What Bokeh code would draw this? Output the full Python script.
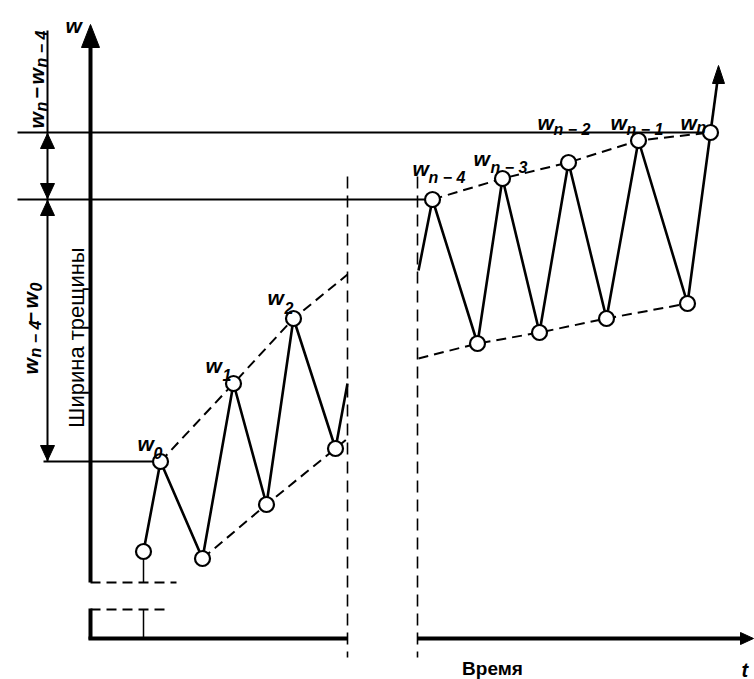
import math
from bokeh.plotting import figure
from bokeh.models import Range1d
from bokeh.core.properties import value
from bokeh.embed import file_html
from bokeh.resources import INLINE

H = 679  # page height used to turn picture rows into w levels

# ---------------- data (time t, crack width w) ----------------
left_t = [143, 160, 202, 233, 266, 293, 335, 347]
left_w = [128, 218, 121, 296, 175, 361, 231, 296]
right_t = [418, 432, 477, 502, 539, 568, 606, 638, 687, 710]
right_w = [409, 480, 336, 501, 347, 517, 361, 539, 376, 547]

upper_left_t = [160, 233, 293, 347]
upper_left_w = [218, 296, 361, 405]
lower_left_t = [202, 266, 335, 347]
lower_left_w = [121, 175, 231, 241]
upper_right_t = [432, 502, 568, 638, 710]
upper_right_w = [480, 501, 517, 539, 547]
lower_right_t = [418, 477, 539, 606, 687]
lower_right_w = [321, 336, 347, 361, 376]

w0_level = left_w[1]
wn4_level = right_w[1]
wn_level = right_w[-1]

peak_labels = ["0", "1", "2", "n − 4", "n − 3", "n − 2", "n − 1", "n"]


def Y(py):
    return H - py


p = figure(width=754, height=679, x_range=Range1d(0, 754), y_range=Range1d(0, 679),
           output_backend="svg", toolbar_location=None, min_border=0,
           x_axis_type=None, y_axis_type=None)
p.grid.visible = False
p.outline_line_color = None
p.background_fill_color = "white"
p.border_fill_color = "white"

K = "black"
FONT = value("Liberation Sans")


def tri(xs, ys, color=K):
    p.patch(xs, ys, fill_color=color, line_color=color, line_width=1)


# ---------------- axes ----------------
p.line([90, 90], [Y(46), Y(582)], line_color=K, line_width=4)
tri([90, 81, 99], [Y(24), Y(47), Y(47)])
p.line([90, 176], [Y(582), Y(582)], line_color=K, line_width=2, line_dash="10 6")
p.line([143, 143], [Y(559), Y(582)], line_color=K, line_width=1.5)
p.line([90, 168], [Y(609), Y(609)], line_color=K, line_width=2, line_dash="10 6")
p.line([90, 90], [Y(608), Y(639)], line_color=K, line_width=4)
p.line([143, 143], [Y(609), Y(638)], line_color=K, line_width=1.5)
p.line([88, 347], [Y(638), Y(638)], line_color=K, line_width=4)
p.line([417, 744], [Y(638), Y(638)], line_color=K, line_width=4)
tri([753, 740, 740], [Y(638), Y(632), Y(644)])

for xv in (347, 417):
    p.line([xv, xv], [Y(176), Y(657)], line_color=K, line_width=1.6, line_dash="12 7")

# ---------------- reference levels & dimension line ----------------
p.line([17, 702], [wn_level, wn_level], line_color=K, line_width=2)
p.line([17, 424], [wn4_level, wn4_level], line_color=K, line_width=2)
p.line([43, 152], [w0_level, w0_level], line_color=K, line_width=2)
p.line([47, 47], [Y(30), w0_level], line_color=K, line_width=2)
aw, al = 7, 15
tri([47, 47 - aw, 47 + aw], [wn_level - 1, wn_level - 1 - al, wn_level - 1 - al])
tri([47, 47 - aw, 47 + aw], [wn4_level + 1, wn4_level + 1 + al, wn4_level + 1 + al])
tri([47, 47 - aw, 47 + aw], [wn4_level - 1, wn4_level - 1 - al, wn4_level - 1 - al])
tri([47, 47 - aw, 47 + aw], [w0_level + 1, w0_level + 1 + al, w0_level + 1 + al])

# ---------------- envelopes ----------------
for tt, ww in ((upper_left_t, upper_left_w), (lower_left_t, lower_left_w),
               (upper_right_t, upper_right_w), (lower_right_t, lower_right_w)):
    p.line(tt, ww, line_color=K, line_width=2, line_dash="10 6")

# ---------------- zigzags ----------------
p.line(left_t, left_w, line_color=K, line_width=2.6)
p.line(right_t, right_w, line_color=K, line_width=2.6)
# continuation arrow after w_n
p.line([right_t[-1], 717], [right_w[-1], Y(80)], line_color=K, line_width=2.6)
tri([718, 712, 724], [Y(65), Y(83), Y(83)])

p.scatter(left_t[:7], left_w[:7], size=15, fill_color="white", line_color=K, line_width=2.2)
p.scatter(right_t[1:], right_w[1:], size=15, fill_color="white", line_color=K, line_width=2.2)

# ---------------- labels ----------------
def txt(x, y, s, size, style="bold italic", angle=0.0, align="left", base="alphabetic"):
    p.text([x], [y], text=[s], text_font=FONT, text_font_size=f"{size}px",
           text_font_style=style, text_color=K, angle=angle,
           text_align=align, text_baseline=base)


# (w left, w baseline, sub left, sub baseline) in page pixels
label_pos = [
    (137, 443, 153, 452),
    (205, 365, 222, 374),
    (267, 297, 284, 307),
    (412, 168, 428, 177),
    (473, 158, 490, 167),
    (537, 122, 553, 129),
    (610, 122, 626, 129),
    (680, 122, 696, 127),
]
for (wx, wy, sx, sy), sub in zip(label_pos, peak_labels):
    txt(wx, Y(wy), "w", 21)
    txt(sx, Y(sy), sub, 16)

# axis labels
txt(65, Y(25), "w", 21)
txt(741, Y(669), "t", 20)
txt(492, Y(668), "Время", 19, style="bold", align="center")

# rotated labels
A = math.pi / 2
txt(76, Y(337), "Ширина трещины", 22, style="normal", angle=A, align="center")
# w_n − w_{n-4}
txt(36, Y(128), "w", 21, angle=A)
txt(41, Y(111), "n", 16, angle=A)
txt(36, Y(98), "−", 20, style="bold", angle=A)
txt(36, Y(84), "w", 21, angle=A)
txt(41, Y(67), "n − 4", 16, angle=A)
# w_{n-4} − w_0
txt(30, Y(374), "w", 21, angle=A)
txt(35, Y(357), "n − 4", 16, angle=A)
txt(30, Y(323), "−", 20, style="bold", angle=A)
txt(30, Y(308), "w", 21, angle=A)
txt(35, Y(291), "0", 16, angle=A)

open("out.html", "w").write(file_html(p, INLINE))
